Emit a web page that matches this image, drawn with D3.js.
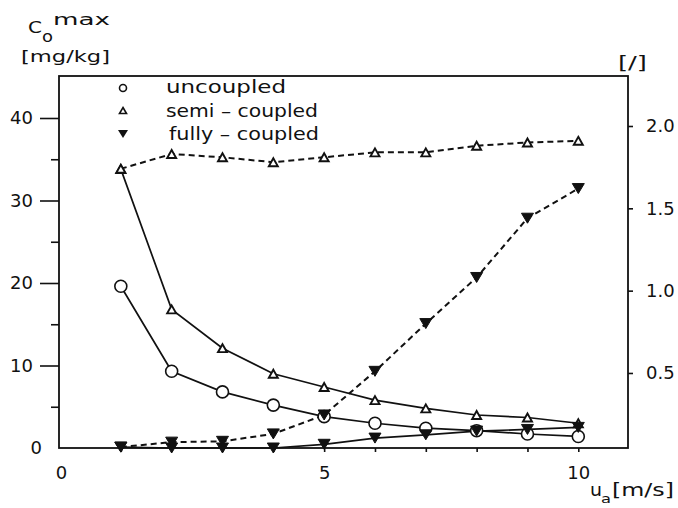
<!DOCTYPE html>
<html>
<head>
<meta charset="utf-8">
<script src="https://cdn.jsdelivr.net/npm/d3@7"></script>
<style>
  body { margin: 0; background: #fff; }
  svg { display: block; }
  text { font-family: "DejaVu Sans", sans-serif; fill: #111; }
</style>
</head>
<body>
<script>
// Wind speed u_a [m/s]
const speeds = [1, 2, 3, 4, 5, 6, 7, 8, 9, 10];

// Maximum concentration C_o^max [mg/kg] (left axis, solid lines)
const uncoupled    = [19.6, 9.3, 6.8, 5.2, 3.8, 3.0, 2.4, 2.1, 1.7, 1.4];
const semiCoupled  = [33.8, 16.8, 12.1, 9.0, 7.4, 5.8, 4.8, 4.0, 3.7, 3.0];
const fullyCoupled = [0.1, 0.0, 0.0, 0.0, 0.45, 1.2, 1.6, 2.05, 2.25, 2.5];

// Ratio to the uncoupled case [/] (right axis, dashed lines)
const ratioSemi  = [1.74, 1.83, 1.81, 1.78, 1.81, 1.84, 1.84, 1.88, 1.90, 1.91];
const ratioFully = [0.05, 0.08, 0.085, 0.13, 0.245, 0.51, 0.80, 1.08, 1.44, 1.62];

// Axis ticks
const leftTicks = [10, 20, 30, 40];
const leftMinorTicks = [5, 15, 25, 35];
const rightTicks = [0.5, 1.0, 1.5, 2.0];
const bottomTicks = [1, 2, 3, 4, 5, 6, 7, 8, 9, 10];
const bottomLabels = [5, 10];

const legendLabels = ["uncoupled", "semi – coupled", "fully – coupled"];

const W = 678, H = 508;
const frame = { left: 59, right: 628, top: 76, bottom: 448 };
const ink = "#111";

const svg = d3.select("body").append("svg").attr("width", W).attr("height", H);

const x = d3.scaleLinear().domain([0, 10]).range([70, 578.3]);
const yL = d3.scaleLinear().domain([0, 40]).range([448, 118]);
const yR = d3.scaleLinear().domain([0, 2]).range([455.3, 126]);

// frame
svg.append("rect")
  .attr("x", frame.left).attr("y", frame.top)
  .attr("width", frame.right - frame.left).attr("height", frame.bottom - frame.top)
  .attr("fill", "none").attr("stroke", ink).attr("stroke-width", 1.8);

function styleAxis(g, fontSize) {
  g.select(".domain").remove();
  g.selectAll(".tick line").attr("stroke", ink).attr("stroke-width", 1.6);
  g.selectAll(".tick text").attr("fill", ink)
    .style("font-family", '"DejaVu Sans", sans-serif').style("font-size", fontSize + "px");
}

// bottom axis
svg.append("g").attr("transform", `translate(0,${frame.bottom})`)
  .call(d3.axisBottom(x).tickValues(bottomTicks).tickSize(4).tickPadding(14)
    .tickFormat(d => bottomLabels.includes(d) ? d : ""))
  .call(g => styleAxis(g, 18));
svg.append("text").attr("x", 61.5).attr("y", 479).attr("text-anchor", "middle")
  .style("font-size", "18px").text("0");

// left axis
svg.append("g").attr("transform", `translate(${frame.left},0)`)
  .call(d3.axisLeft(yL).tickValues(leftTicks).tickSize(19).tickPadding(7))
  .call(g => styleAxis(g, 18));
svg.append("g").attr("transform", `translate(${frame.left},0)`)
  .call(d3.axisLeft(yL).tickValues(leftMinorTicks).tickSize(8).tickFormat(""))
  .call(g => styleAxis(g, 18));
svg.append("text").attr("x", 42).attr("y", yL(0)).attr("dy", "0.32em")
  .attr("text-anchor", "end").style("font-size", "18px").text("0");

// right axis
svg.append("g").attr("transform", `translate(${frame.right},0)`)
  .call(d3.axisRight(yR).tickValues(rightTicks).tickSize(5).tickPadding(13)
    .tickFormat(d3.format(".1f")))
  .call(g => styleAxis(g, 18));

// marker shapes
function triUp(w, h) {
  return `M0,${-h / 2}L${w / 2},${h / 2}L${-w / 2},${h / 2}Z`;
}
function triDown(w, h) {
  return `M${-w / 2},${-h / 2}L${w / 2},${-h / 2}L0,${h / 2}Z`;
}

const series = [
  { values: uncoupled,    y: yL, dash: null,  marker: "circle" },
  { values: semiCoupled,  y: yL, dash: null,  marker: "up" },
  { values: fullyCoupled, y: yL, dash: null,  marker: "down" },
  { values: ratioSemi,    y: yR, dash: "6,4", marker: "up" },
  { values: ratioFully,   y: yR, dash: "6,4", marker: "down" }
];

series.forEach(s => {
  const pts = speeds.map((v, i) => [x(v), s.y(s.values[i])]);
  svg.append("path")
    .attr("d", d3.line()(pts))
    .attr("fill", "none").attr("stroke", ink)
    .attr("stroke-width", s.dash ? 2 : 1.7)
    .attr("stroke-dasharray", s.dash);
});

series.forEach(s => {
  const pts = speeds.map((v, i) => [x(v), s.y(s.values[i])]);
  const g = svg.append("g");
  pts.forEach(([px, py]) => {
    if (s.marker === "circle") {
      g.append("circle").attr("cx", px).attr("cy", py).attr("r", 6)
        .attr("fill", "#fff").attr("stroke", ink).attr("stroke-width", 1.6);
    } else if (s.marker === "up") {
      g.append("path").attr("d", triUp(9, 8)).attr("transform", `translate(${px},${py})`)
        .attr("fill", "#fff").attr("stroke", ink).attr("stroke-width", 1.9);
    } else {
      g.append("path").attr("d", triDown(12, 10)).attr("transform", `translate(${px},${py})`)
        .attr("fill", ink).attr("stroke", ink).attr("stroke-width", 1);
    }
  });
});

// legend
const legendRows = [93, 116.5, 140];
const legendX = [166, 166, 169];
const legendW = [120, 152, 150];
svg.append("circle").attr("cx", 123).attr("cy", 88).attr("r", 3.5)
  .attr("fill", "#fff").attr("stroke", ink).attr("stroke-width", 1.6);
svg.append("path").attr("d", triUp(7, 6)).attr("transform", "translate(123,110.5)")
  .attr("fill", "#fff").attr("stroke", ink).attr("stroke-width", 1.6);
svg.append("path").attr("d", triDown(10, 8)).attr("transform", "translate(123,134)")
  .attr("fill", ink);
legendLabels.forEach((t, i) => {
  svg.append("text").attr("x", legendX[i]).attr("y", legendRows[i])
    .style("font-size", "17px")
    .attr("textLength", legendW[i]).attr("lengthAdjust", "spacingAndGlyphs")
    .text(t);
});

// axis titles
function label(txt, px, py, size, len) {
  const t = svg.append("text").attr("x", px).attr("y", py).style("font-size", size + "px").text(txt);
  if (len) t.attr("textLength", len).attr("lengthAdjust", "spacingAndGlyphs");
  return t;
}
label("C", 28, 33, 15.5, 14);
label("o", 42, 42, 15, 11);
label("max", 53, 25, 15, 57);
label("[mg/kg]", 21, 62, 16, 89);
label("[/]", 618, 69, 17, 29);
label("u", 590, 496, 17, 12);
label("a", 601, 503, 13, 10);
label("[m/s]", 612, 496, 17, 62);
</script>
</body>
</html>
